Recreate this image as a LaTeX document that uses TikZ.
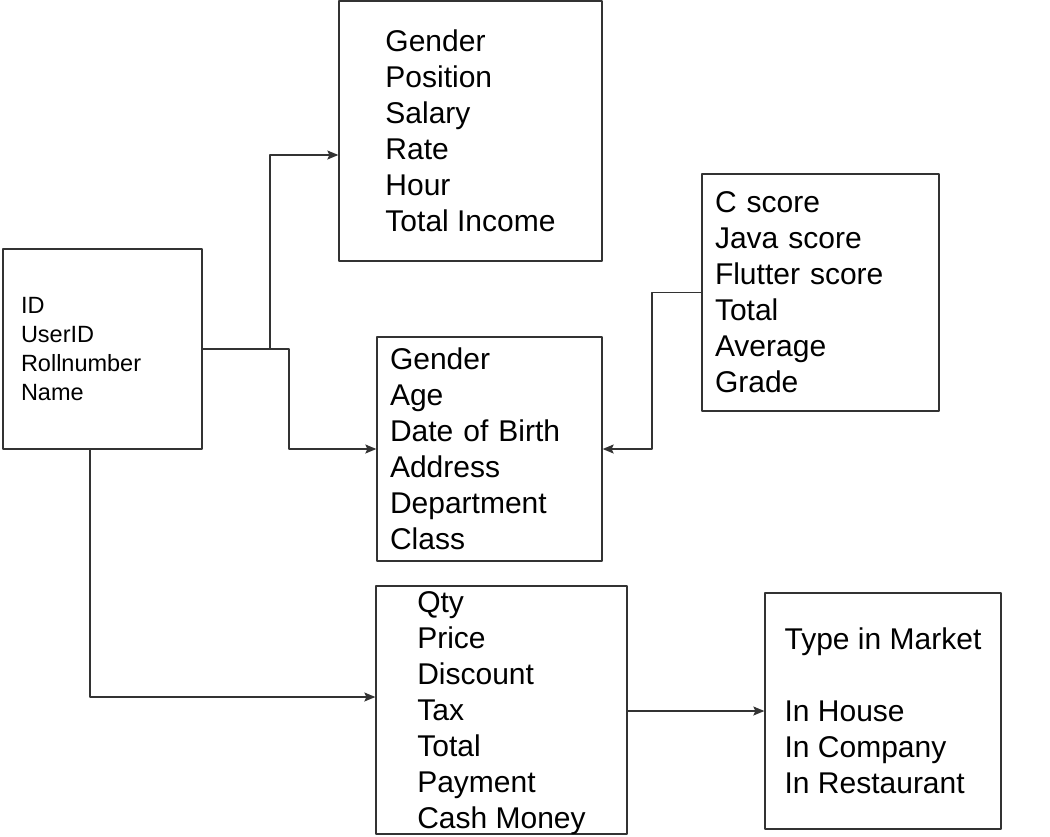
\documentclass[tikz,border=0pt]{standalone}
\usepackage{fontspec}
\setmainfont{Liberation Sans}
\usetikzlibrary{arrows.meta,positioning}
\begin{document}
\begin{tikzpicture}[x=1pt,y=-1pt,line join=round,>={Stealth[length=11pt,width=9pt,inset=2pt]},
box/.style={draw=black!80,line width=1.3pt,inner sep=0pt,align=left,font=\fontsize{30}{36}\selectfont},
conn/.style={draw=black!80,line width=1.3pt,->}]
\useasboundingbox (0,0) rectangle (1050,836);
\node[box,minimum width=263,minimum height=260] (emp) at (470.5,131) {Gender\\Position\\Salary\\Rate\\Hour\\Total Income};
\node[box,minimum width=199,minimum height=200,text width=163,font=\fontsize{23.5}{29}\selectfont] (user) at (102.5,349) {ID\\UserID\\Rollnumber\\Name};
\node[box,minimum width=225,minimum height=224,text width=199] (person) at (489.5,449) {Gender\\Age\\Date of Birth\\Address\\Department\\Class};
\node[box,minimum width=237,minimum height=237,text width=211] (score) at (820.5,292.5) {C score\\Java score\\Flutter score\\Total\\Average\\Grade};
\node[box,minimum width=251,minimum height=248,text depth=0pt] (sale) at (501.5,710) {Qty\\Price\\Discount\\Tax\\Total\\Payment\\Cash Money};
\node[box,minimum width=236,minimum height=236] (market) at (883,711) {Type in Market\\[36pt]In House\\In Company\\In Restaurant};
\draw[conn] (user.east) -| (270,155) -- (emp.west |- 0,155);
\draw[conn] (user.east) -| (289,449) -- (person.west);
\draw[conn] (score.west) -| (652,449) -- (person.east);
\draw[conn] (user.south -| 90,0) |- (sale.west |- 0,697);
\draw[conn] (sale.east |- market.west) -- (market.west);
\end{tikzpicture}
\end{document}
